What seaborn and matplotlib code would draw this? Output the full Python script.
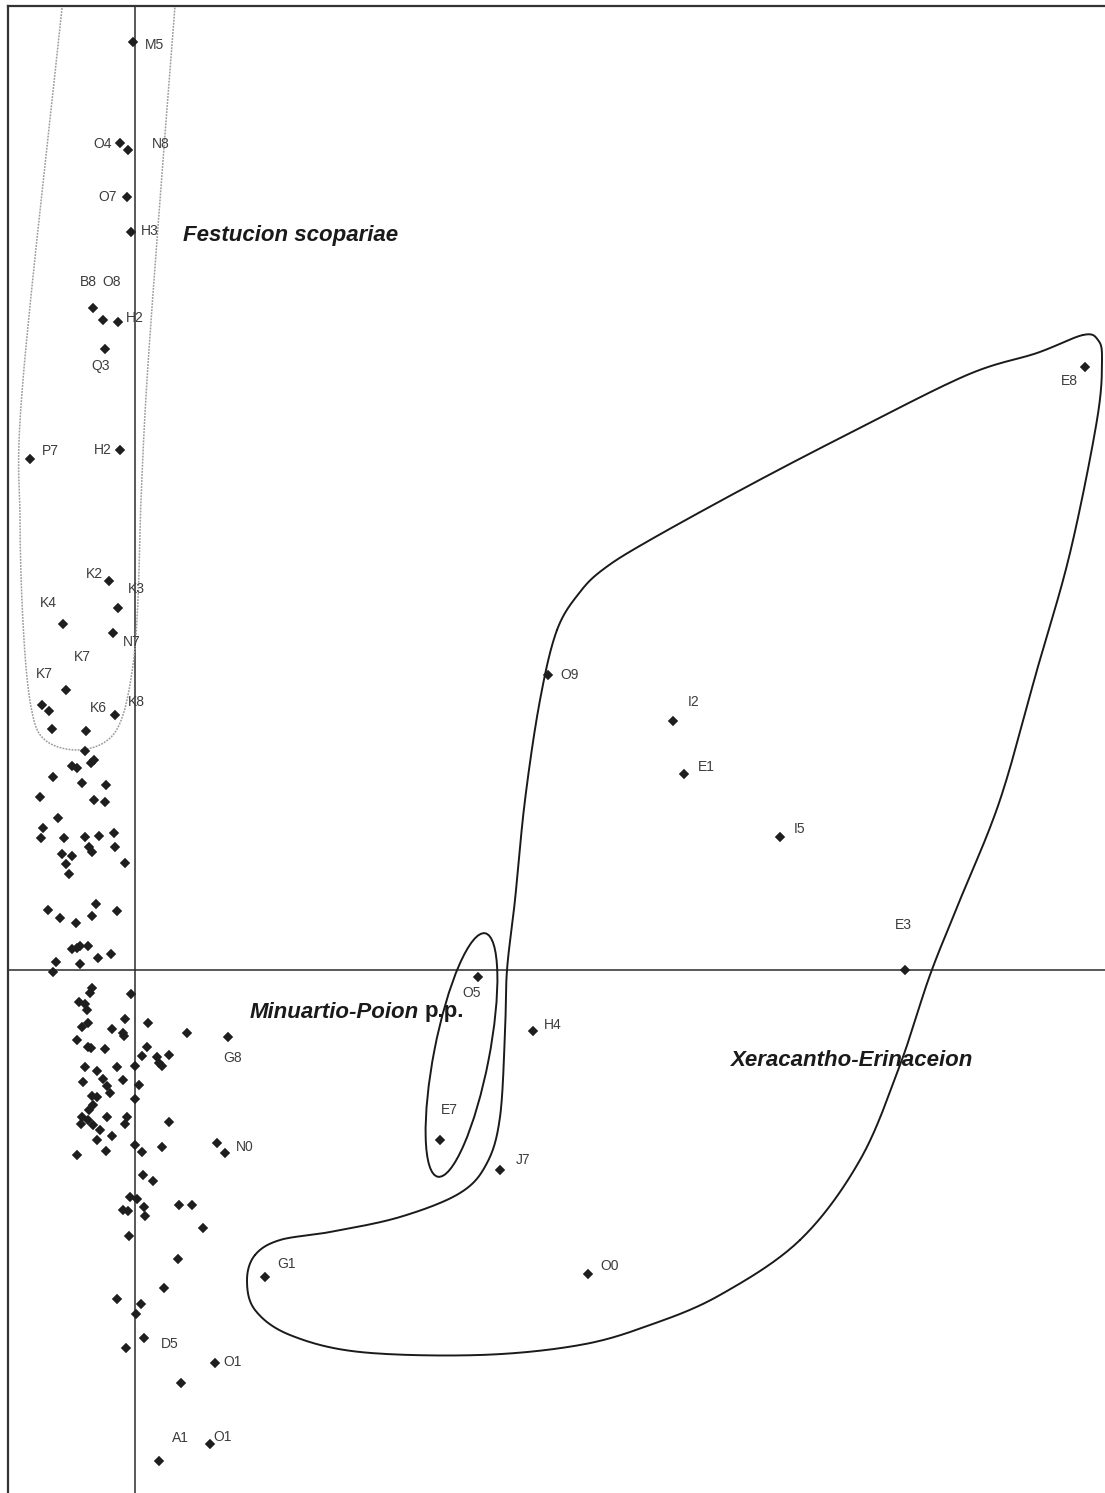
import numpy as np
import pandas as pd
import matplotlib
matplotlib.use("Agg")
import matplotlib.pyplot as plt
from matplotlib.patches import Ellipse
import seaborn as sns

sns.set_style("white")
plt.rcParams['font.family'] = ['Liberation Sans', 'DejaVu Sans']

# releves com rotulo (eixo 1, eixo 2)
rel_nomes = ['M5', 'O4', 'N8', 'O7', 'H3', 'B8', 'O8', 'H2', 'Q3', 'P7', 'H2',
             'K2', 'K3', 'K4', 'N7', 'K7', 'K7', 'K8', 'K6', 'G8', 'N0', 'D5',
             'O1', 'A1', 'O1', 'G1', 'O5', 'H4', 'E7', 'J7', 'O0', 'E3', 'I5',
             'E1', 'I2', 'O9', 'E8']
rel_x = [-0.02, -0.15, -0.07, -0.08, -0.04, -0.42, -0.32, -0.17, -0.30, -1.05, -0.15,
         -0.26, -0.17, -0.72, -0.22, -0.69, -0.93, -0.20, -0.49, 0.93, 0.90, 0.09,
         0.80, 0.24, 0.75, 1.30, 3.43, 3.98, 3.05, 3.65, 4.53, 7.70, 6.45,
         5.49, 5.38, 4.13, 9.50]
rel_y = [9.28, 8.27, 8.20, 7.73, 7.38, 6.62, 6.50, 6.48, 6.21, 5.11, 5.20,
         3.89, 3.62, 3.46, 3.37, 2.80, 2.65, 2.55, 2.39, -0.67, -1.83, -3.68,
         -3.93, -4.91, -4.74, -3.07, -0.07, -0.61, -1.70, -2.00, -3.04, 0.00, 1.33,
         1.96, 2.49, 2.95, 6.03]

# releves sem rotulo
pts_x = [-0.86, -0.83, -0.50, -0.63, -0.58, -0.44, -0.41, -0.82, -0.53, -0.29,
         -0.95, -0.41, -0.30, -0.77, -0.92, -0.94, -0.71, -0.50, -0.36, -0.21,
         -0.46, -0.43, -0.20, -0.73, -0.63, -0.69, -0.10, -0.66, -0.87, -0.75,
         -0.59, -0.39, -0.43, -0.18, -0.63, -0.55, -0.47, -0.58, -0.37, -0.24,
         -0.79, -0.82, -0.55, -0.43, -0.45, -0.04, -0.56, -0.50, -0.48, -0.10,
         0.13, 0.52, -0.23, -0.47, -0.53, -0.12, -0.11, -0.58, -0.47, -0.44,
         -0.30, 0.12, 0.07, 0.22, 0.34, 0.24, 0.27, 0.00, -0.50, -0.38,
         -0.18, -0.52, -0.32, -0.28, -0.25, -0.12, 0.04, 0.00, -0.43, -0.38,
         -0.42, -0.46, -0.53, -0.54, -0.47, -0.42, -0.35, -0.28, -0.08, -0.10,
         0.34, -0.23, -0.38, -0.58, -0.29, 0.00, 0.07, 0.27, 0.82, 0.08,
         0.18, -0.05, 0.02, 0.09, 0.10, -0.12, -0.07, 0.44, 0.57, 0.68,
         -0.06, 0.43, 0.29, -0.18, 0.06, 0.01, -0.09, 0.46]
pts_y = [2.59, 2.41, 2.19, 2.04, 2.02, 2.07, 2.10, 1.93, 1.87, 1.85,
         1.73, 1.70, 1.68, 1.52, 1.42, 1.32, 1.32, 1.33, 1.34, 1.37,
         1.23, 1.18, 1.23, 1.16, 1.14, 1.06, 1.07, 0.96, 0.60, 0.52,
         0.47, 0.66, 0.54, 0.59, 0.21, 0.24, 0.24, 0.22, 0.12, 0.16,
         0.08, -0.02, 0.06, -0.18, -0.23, -0.24, -0.32, -0.34, -0.40, -0.49,
         -0.53, -0.63, -0.59, -0.53, -0.57, -0.63, -0.66, -0.70, -0.77, -0.78,
         -0.79, -0.77, -0.86, -0.87, -0.85, -0.93, -0.96, -0.96, -0.97, -1.01,
         -0.97, -1.12, -1.09, -1.16, -1.23, -1.10, -1.15, -1.29, -1.26, -1.27,
         -1.35, -1.40, -1.47, -1.54, -1.50, -1.55, -1.60, -1.47, -1.47, -1.54,
         -1.52, -1.66, -1.70, -1.85, -1.81, -1.75, -1.82, -1.77, -1.73, -2.05,
         -2.11, -2.27, -2.29, -2.37, -2.46, -2.40, -2.41, -2.35, -2.35, -2.58,
         -2.66, -2.89, -3.18, -3.29, -3.34, -3.44, -3.78, -4.13]

# contornos dos grupos (vertices)
festucion_x = [-0.70, -1.12, -1.15, -1.11, -1.03, -0.90, -0.60, -0.30, -0.13,
               -0.02, 0.03, 0.06, 0.12, 0.25, 0.42]
festucion_y = [9.90, 5.90, 4.50, 3.30, 2.58, 2.30, 2.20, 2.28, 2.52,
               3.05, 3.70, 4.70, 5.90, 7.70, 9.90]
xeracantho_x = [9.48, 9.63, 9.67, 9.62, 9.35, 9.02, 8.65, 8.25, 7.95, 7.65, 7.25,
                6.65, 5.85, 5.15, 4.45, 3.45, 2.25, 1.55, 1.20, 1.12, 1.20, 1.45,
                1.95, 2.65, 3.25, 3.52, 3.65, 3.70, 3.72, 3.80, 3.90, 4.05, 4.22,
                4.45, 4.70, 5.15, 6.15, 7.15, 8.32, 9.02]
xeracantho_y = [6.35, 6.30, 6.10, 5.50, 4.17, 3.00, 1.70, 0.70, -0.05, -0.95, -1.90,
                -2.70, -3.25, -3.55, -3.75, -3.85, -3.82, -3.65, -3.40, -3.10, -2.85, -2.70,
                -2.62, -2.47, -2.23, -1.93, -1.47, -0.63, 0.00, 0.70, 1.70, 2.70, 3.40,
                3.78, 4.02, 4.30, 4.85, 5.37, 5.95, 6.17]

# deslocamento dos rotulos (pixels)
desl_rotulo = [(21, -3), (-17, -1), (33, 6), (-19, 0), (19, 1), (-5, 26), (9, 38),
               (17, 4), (-4, -17), (20, 8), (-17, 0), (-15, 7), (18, 19), (-15, 21),
               (19, -9), (16, 33), (2, 31), (21, 13), (12, 23), (5, -21), (20, 6),
               (26, -6), (18, 1), (21, 23), (13, 7), (22, 13), (-6, -16), (20, 6),
               (9, 30), (23, 10), (22, 8), (-2, 45), (20, 8), (22, 7), (21, 19),
               (22, 0), (-16, -14)]


def catmull_rom(xs, ys, fechado=False, n=24):
    p = np.column_stack([xs, ys])
    if fechado:
        p = np.vstack([p[-1], p, p[0], p[1]])
    else:
        p = np.vstack([2 * p[0] - p[1], p, 2 * p[-1] - p[-2]])
    t = np.linspace(0, 1, n)[:, None]
    segs = []
    for i in range(1, len(p) - 2):
        p0, p1, p2, p3 = p[i - 1], p[i], p[i + 1], p[i + 2]
        segs.append(0.5 * ((2 * p1) + (-p0 + p2) * t
                           + (2 * p0 - 5 * p1 + 4 * p2 - p3) * t ** 2
                           + (-p0 + 3 * p1 - 3 * p2 + p3) * t ** 3))
    c = np.vstack(segs)
    return c[:, 0], c[:, 1]


df = pd.DataFrame({'x': rel_x + pts_x, 'y': rel_y + pts_y})

fig = plt.figure(figsize=(11.05, 14.93), dpi=100)
ax = fig.add_axes([8 / 1105, 0, 1 - 8 / 1105, 1 - 6 / 1493])

ax.axhline(0, color='#2b2b2b', lw=1.1, zorder=1)
ax.axvline(0, color='#2b2b2b', lw=1.1, zorder=1)

fx, fy = catmull_rom(festucion_x, festucion_y)
ax.plot(fx, fy, color='#9c9c9c', lw=1.1, ls=(0, (1.2, 0.8)), zorder=1)
xx, xy = catmull_rom(xeracantho_x, xeracantho_y, fechado=True)
ax.plot(xx, xy, color='#1a1a1a', lw=1.4, zorder=1)
ax.add_patch(Ellipse((3.265, -0.85), 2.48, 0.55, angle=79, fill=False,
                     edgecolor='#1a1a1a', lw=1.4, zorder=1))

sns.scatterplot(data=df, x='x', y='y', marker='D', s=28, color='#1e1e1e',
                edgecolor='none', ax=ax, zorder=3)

for nome, x, y, d in zip(rel_nomes, rel_x, rel_y, desl_rotulo):
    ax.annotate(nome, (x, y), xytext=d, textcoords='offset pixels',
                ha='center', va='center', fontsize=10, color='#3c3c3c')

estilo_grupo = dict(fontsize=16, fontweight='bold', va='center', color='#1a1a1a')
ax.text(0.48, 7.35, 'Festucion scopariae', style='italic', ha='left', **estilo_grupo)
t = ax.text(1.15, -0.42, 'Minuartio-Poion', style='italic', ha='left', **estilo_grupo)
ax.annotate('p.p.', xy=(1, 0.5), xycoords=t, xytext=(4, 0),
            textcoords='offset points', ha='left', **estilo_grupo)
ax.text(5.95, -0.91, 'Xeracantho-Erinaceion', style='italic', ha='left', **estilo_grupo)

ax.set_xlim(-1.27, 9.70)
ax.set_ylim(-5.23, 9.64)
ax.set_xlabel('')
ax.set_ylabel('')
ax.set_xticks([])
ax.set_yticks([])
for lado in ['right', 'bottom']:
    ax.spines[lado].set_visible(False)
for lado in ['left', 'top']:
    ax.spines[lado].set_color('#333333')
    ax.spines[lado].set_linewidth(1.6)

fig.savefig('out.png', dpi=100)
